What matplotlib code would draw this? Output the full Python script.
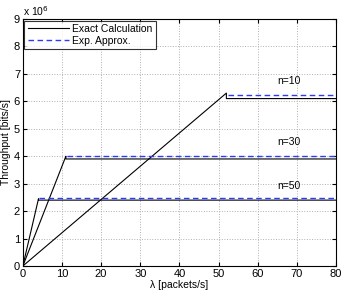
import matplotlib.pyplot as plt
from matplotlib.ticker import FuncFormatter

plt.rcParams['font.family'] = ['Liberation Sans', 'DejaVu Sans']

# exact calculation (lambda [packets/s], throughput [bits/s])
lam_n10 = [0, 52, 52, 80]
thr_n10 = [0, 6.3e6, 6.1e6, 6.1e6]
lam_n30 = [0, 11, 11, 80]
thr_n30 = [0, 4.0e6, 3.9e6, 3.9e6]
lam_n50 = [0, 4, 4, 80]
thr_n50 = [0, 2.45e6, 2.4e6, 2.4e6]

# exponential approximation (saturated part)
apx_lam_n10 = [52.3, 80]
apx_thr_n10 = [6.24e6, 6.24e6]
apx_lam_n30 = [11.2, 80]
apx_thr_n30 = [4.02e6, 4.02e6]
apx_lam_n50 = [4.2, 80]
apx_thr_n50 = [2.47e6, 2.47e6]

labels = ['n=10', 'n=30', 'n=50']
label_x = [68, 68, 68]
label_y = [6.75e6, 4.52e6, 2.93e6]

fig = plt.figure(figsize=(3.46, 2.92), dpi=100)
ax = fig.add_axes([0.066, 0.089, 0.905, 0.846])

blue = '#2a3cf5'
ax.plot(lam_n10, thr_n10, color='black', lw=0.8, label='Exact Calculation')
ax.plot(apx_lam_n10, apx_thr_n10, color=blue, lw=1.0, ls='--', dashes=(4, 2.5), label='Exp. Approx.')
ax.plot(lam_n30, thr_n30, color='black', lw=0.8)
ax.plot(apx_lam_n30, apx_thr_n30, color=blue, lw=1.0, ls='--', dashes=(4, 2.5))
ax.plot(lam_n50, thr_n50, color='black', lw=0.8)
ax.plot(apx_lam_n50, apx_thr_n50, color=blue, lw=1.0, ls='--', dashes=(4, 2.5))

for t, x, y in zip(labels, label_x, label_y):
    ax.text(x, y, t, fontsize=7.5, ha='center', va='center')

ax.set_xlim(0, 80)
ax.set_ylim(0, 9e6)
ax.set_xticks(range(0, 81, 10))
ax.set_yticks([i * 1e6 for i in range(10)])
ax.yaxis.set_major_formatter(FuncFormatter(lambda v, p: '%d' % round(v / 1e6)))
ax.tick_params(direction='in', top=True, right=True, labelsize=8, length=3, pad=2)
ax.grid(True, ls=':', color='#b0b0b0', lw=0.7)
ax.text(0.0, 1.005, r'x 10$^6$', transform=ax.transAxes, fontsize=7.5, ha='left', va='bottom')

ax.set_xlabel(u'\u03bb [packets/s]', fontsize=7.5, labelpad=1)
ax.set_ylabel('Throughput [bits/s]', fontsize=7.5, labelpad=2)

leg = ax.legend(loc='upper left', fontsize=7.5, frameon=True, fancybox=False,
                borderpad=0.3, labelspacing=0.2, handlelength=4.0,
                borderaxespad=0.15, handletextpad=0.3)
leg.get_frame().set_edgecolor('black')
leg.get_frame().set_linewidth(0.8)

plt.savefig('out.png', dpi=100)
